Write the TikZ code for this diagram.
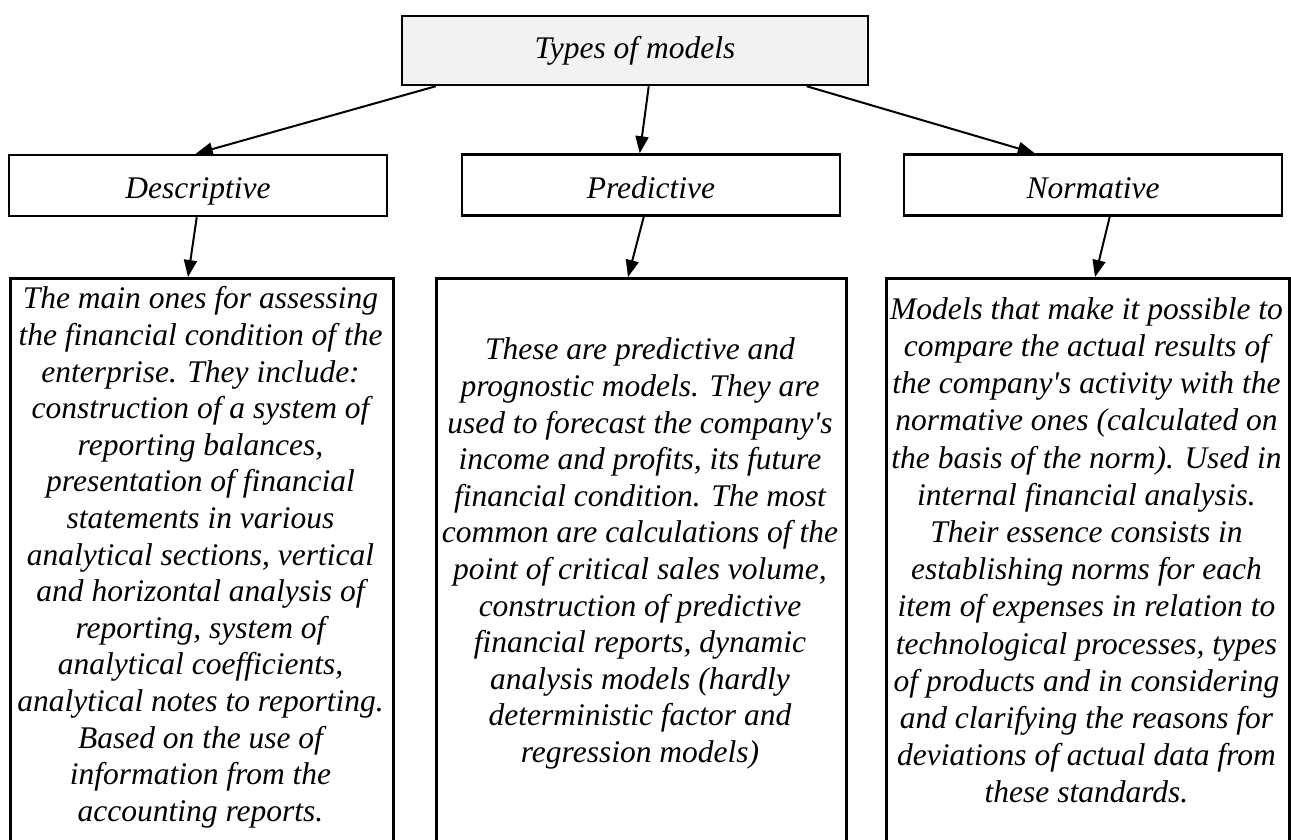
\documentclass[tikz,border=0pt]{standalone}
\usepackage{fontspec}
\setmainfont{Liberation Serif}
\usetikzlibrary{arrows.meta}
\definecolor{topgray}{HTML}{F2F2F2}
\tikzset{
  boxfont/.style={font=\fontsize{31.5}{36.6}\selectfont\itshape},
  topbox/.style={draw, line width=2.5pt, fill=topgray, minimum width=466pt, minimum height=69pt, inner sep=0pt, text height=23pt, text depth=8pt, boxfont},
  headbox/.style={draw, line width=2.5pt, minimum width=378pt, minimum height=61pt, inner sep=0pt, text height=28pt, text depth=2pt, boxfont},
  bigbox/.style={draw, line width=2.5pt, anchor=north west, minimum height=700pt, inner sep=0pt},
  bodytext/.style={inner sep=0pt, align=center, anchor=north, boxfont},
  conn/.style={line width=2pt, -{Triangle[length=17pt,width=13pt]}}
}
\begin{document}
\begin{tikzpicture}[x=1pt, y=-1pt]
\useasboundingbox (0,0) rectangle (1291,839);
\clip (0,0) rectangle (1291,839);

% top node
\node[topbox] (top) at (635,50.5) {Types of models};

% second level
\node[headbox] (d) at (198,185.5) {Descriptive};
\node[headbox] (p) at (651,185) {Predictive};
\node[headbox] (n) at (1093,185) {Normative};

% bottom frames
\node[bigbox, minimum width=383pt] (b1) at (9,277) {};
\node[bigbox, minimum width=410pt] (b2) at (435,277) {};
\node[bigbox, minimum width=403pt] (b3) at (885,277) {};

% texts
\node[bodytext] (t1) at (200.5,283) {\strut The main ones for assessing\\
the financial condition of the\\
enterprise. They include:\\
construction of a system of\\
reporting balances,\\
presentation of financial\\
statements in various\\
analytical sections, vertical\\
and horizontal analysis of\\
reporting, system of\\
analytical coefficients,\\
analytical notes to reporting.\\
Based on the use of\\
information from the\\
accounting reports.};

\node[bodytext] (t2) at (640,334) {\strut These are predictive and\\
prognostic models. They are\\
used to forecast the company\textquotesingle s\\
income and profits, its future\\
financial condition. The most\\
common are calculations of the\\
point of critical sales volume,\\
construction of predictive\\
financial reports, dynamic\\
analysis models (hardly\\
deterministic factor and\\
regression models)};

\node[bodytext, font=\fontsize{31.5}{37.2}\selectfont\itshape] (t3) at (1086.5,293) {\strut Models that make it possible to\\
compare the actual results of\\
the company\textquotesingle s activity with the\\
normative ones (calculated on\\
the basis of the norm). Used in\\
internal financial analysis.\\
Their essence consists in\\
establishing norms for each\\
item of expenses in relation to\\
technological processes, types\\
of products and in considering\\
and clarifying the reasons for\\
deviations of actual data from\\
these standards.};

% connectors
\draw[conn] ([xshift=35pt]top.south west) -- ([xshift=188pt]d.north west);
\draw[conn] ([xshift=248pt]top.south west) -- ([xshift=179pt]p.north west);
\draw[conn] ([xshift=406pt]top.south west) -- ([xshift=132pt]n.north west);

\draw[conn] ([xshift=189pt]d.south west) -- ([xshift=179pt]b1.north west);
\draw[conn] ([xshift=183pt]p.south west) -- ([xshift=193pt]b2.north west);
\draw[conn] ([xshift=207pt]n.south west) -- ([xshift=210pt]b3.north west);
\end{tikzpicture}
\end{document}
